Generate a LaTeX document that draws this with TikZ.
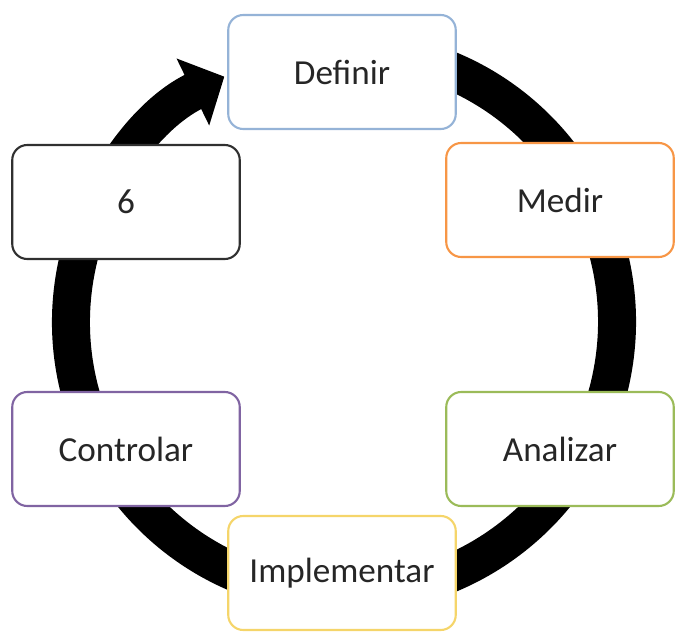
\documentclass[tikz,border=0pt]{standalone}
\usepackage{fontspec}
\setmainfont{Carlito}
\usetikzlibrary{arrows.meta}
\definecolor{azul}{HTML}{95B3D7}
\definecolor{naranja}{HTML}{F79646}
\definecolor{verde}{HTML}{9BBB59}
\definecolor{amarillo}{HTML}{F5D56A}
\definecolor{morado}{HTML}{8064A2}
\definecolor{gris}{HTML}{303030}
\begin{document}
\begin{tikzpicture}[
    paso/.style={draw, fill=white, rounded corners=0.3cm, line width=1.2pt,
        minimum width=4.55cm, minimum height=2.28cm,
        font=\fontsize{20}{24}\selectfont, text=black!85}
]
            \useasboundingbox (0,0) rectangle (13.5,12.66);
            \coordinate (centro) at (6.88,6.22);

            % ciclo
            \draw[line width=0.76cm, -{Triangle[width=1.45cm,length=0.7cm]}]
                (centro) ++(80:5.46) arc[start angle=80, end angle=-244, radius=5.46];

            \foreach \n/\x/\y/\c/\t in {def/6.84/11.22/azul/Definir,
                                          med/11.2/8.66/naranja/Medir,
                                          ana/11.2/3.68/verde/Analizar,
                                          imp/6.84/1.2/amarillo/Implementar,
                                          con/2.52/3.68/morado/Controlar,
                                          seis/2.52/8.62/gris/6}
            {
                \node[paso, draw=\c] (\n) at (\x,\y) {\t};
            }
        \end{tikzpicture}
\end{document}
